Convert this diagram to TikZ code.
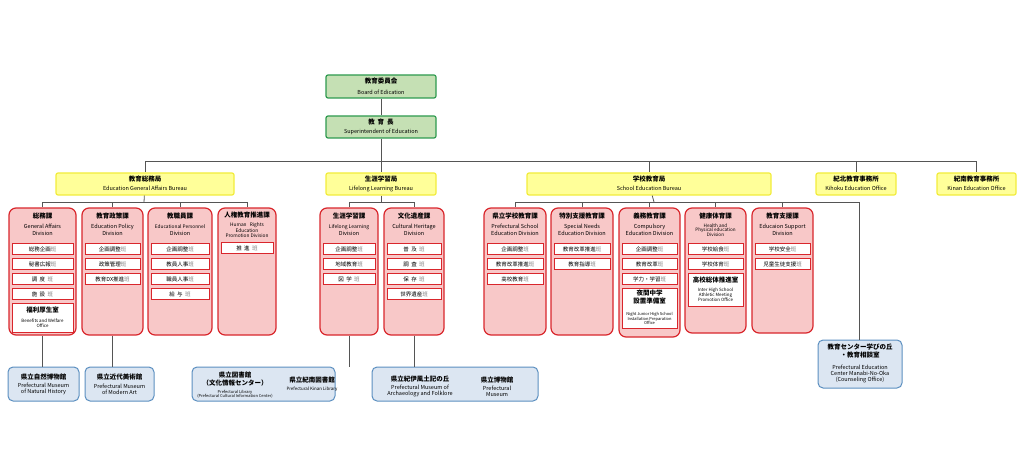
\documentclass[tikz,border=0pt]{standalone}
\usepackage{fontspec}
\setmainfont{Noto Sans CJK JP}
\definecolor{gfill}{HTML}{C5E0B4}\definecolor{gline}{HTML}{2E9A4F}
\definecolor{yfill}{HTML}{FFFF99}\definecolor{yline}{HTML}{F2EC3C}
\definecolor{pfill}{HTML}{F8C8C8}\definecolor{pline}{HTML}{D9262C}
\definecolor{bfill}{HTML}{DCE6F2}\definecolor{bline}{HTML}{5B8FC0}
\definecolor{conn}{HTML}{555555}
\tikzset{
 gbox/.style={draw=gline,fill=gfill,line width=1.2pt,rounded corners=2pt},
 ybox/.style={draw=yline,fill=yfill,line width=1.2pt,rounded corners=2pt},
 pbox/.style={draw=pline,fill=pfill,line width=1.2pt,rounded corners=7pt},
 bbox/.style={draw=bline,fill=bfill,line width=1pt,rounded corners=5pt},
 ibox/.style={draw=pline,fill=white,line width=1pt},
 con/.style={draw=conn,line width=0.8pt},
 txt/.style={inner sep=0pt,align=center,font=\fontsize{5.5}{6.3}\selectfont},
 ttl/.style={inner sep=0pt,align=center,font=\fontsize{6.5}{7.5}\selectfont\bfseries},
}
\newcommand\bx[6]{\node[#1,inner sep=0pt,minimum width={(#5-#3)*1pt},minimum height={(#6-#4)*1pt}] (#2) at ({(#3+#5)/2},{(#4+#6)/2}) {};}
\newcommand\itm[5]{\node[ibox,inner sep=0pt,minimum width={(#3-#2-6)*1pt},minimum height=11pt,txt] (#1) at ({(#2+#3)/2},#4) {#5};}
\newcommand\ban{\textcolor{gray}{班}}
\begin{document}
\begin{tikzpicture}[x=1pt,y=-1pt]
\useasboundingbox (0,0) rectangle (1024,465);
\coordinate (hub) at (381,161);
\coordinate (gaj) at (144,202);
\coordinate (llj) at (381,202);
\coordinate (sej) at (654,202);
% top
\bx{gbox}{board}{326}{75}{436}{98}
\bx{gbox}{supt}{326}{116}{436}{138}
\node[ttl] at (381,81) {教育委員会};
\node[txt] at (381,92) {Board of Edication};
\node[ttl] at (381,122) {教\ \ 育\ \ 長};
\node[txt] at (381,132) {Superintendent of Education};
% bureaus
\bx{ybox}{gab}{56}{173}{234}{195}
\bx{ybox}{llb}{326}{173}{436}{195}
\bx{ybox}{seb}{527}{173}{771}{195}
\bx{ybox}{kho}{816}{173}{896}{195}
\bx{ybox}{kno}{937}{173}{1016}{195}
\foreach \n/\j/\e in {gab/教育総務局/Education General Affairs Bureau,llb/生涯学習局/Lifelong Learning Bureau,seb/学校教育局/School Education Bureau,kho/紀北教育事務所/Kihoku Education Office,kno/紀南教育事務所/Kinan Education Office}{
 \node[ttl] at ([yshift=5pt]\n.center) {\j};
 \node[txt] at ([yshift=-4.5pt]\n.center) {\e};}
% divisions
\bx{pbox}{d1}{9}{208}{76}{335}
\bx{pbox}{d2}{82}{208}{143}{335}
\bx{pbox}{d3}{148}{208}{212}{335}
\bx{pbox}{d4}{218}{208}{276}{335}
\bx{pbox}{d5}{320}{208}{378}{335}
\bx{pbox}{d6}{384}{208}{444}{335}
\bx{pbox}{d7}{484}{208}{546}{335}
\bx{pbox}{d8}{551}{208}{613}{335}
\bx{pbox}{d9}{619}{208}{680}{337}
\bx{pbox}{d10}{685}{208}{746}{333}
\bx{pbox}{d11}{752}{208}{813}{333}
% bottom boxes
\bx{bbox}{nh}{8}{367}{79}{401}
\bx{bbox}{ma}{85}{367}{154}{401}
\bx{bbox}{lib}{192}{367}{335}{401}
\bx{bbox}{kii}{372}{367}{538}{401}
\bx{bbox}{mn}{818}{340}{902}{388}
% connector lines
\draw[con] (board) -- (supt);
\draw[con] (supt) -- (hub);
\draw[con] (hub) -| (gab.north);
\draw[con] (hub) -| (kno.north);
\draw[con] (hub) -| (llb.north);
\draw[con] (hub) -| (seb.north);
\draw[con] (hub) -| (kho.north);
\draw[con] (gab) -- (gaj);
\draw[con] (gaj) -| (d1.north); \draw[con] (gaj) -| (d2.north);
\draw[con] (gaj) -| (d3.north); \draw[con] (gaj) -| (d4.north);
\draw[con] (llb) -- (llj);
\draw[con] (llj) -| (d5.north); \draw[con] (llj) -| (d6.north);
\draw[con] (seb) -- (sej);
\foreach \d in {d7,d8,d9,d10,d11}{\draw[con] (sej) -| (\d.north);}
\draw[con] (sej) -| ([xshift=-1pt]mn.north);
\draw[con] (d1.south) -- (d1.south |- nh.north);
\draw[con] (d2.south) -- (d2.south |- ma.north);
\draw[con] (d5.south) -- (d5.south |- lib.north);
\draw[con] (d6.south) -- (d6.south |- kii.north);
% division headers
\node[ttl] at (42.5,216) {総務課};
\node[txt] at (42.5,230) {General Affairs\\[1pt]Division};
\itm{a1}{9}{76}{249}{総務企画\ban}
\itm{a2}{9}{76}{264}{秘書広報\ban}
\itm{a3}{9}{76}{279}{調\ \ 度\ \ \ban}
\itm{a4}{9}{76}{294}{施\ \ 設\ \ \ban}
\node[ibox,minimum width=61pt,minimum height=29pt,inner sep=0pt] (a5) at (42.5,317.5) {};
\node[ttl] at (42.5,310) {福利厚生室};
\node[txt,font=\fontsize{4.4}{5.2}\selectfont] at (42.5,323.5) {Benefits and Welfare\\Office};
\node[ttl] at (112.5,216) {教育政策課};
\node[txt] at (112.5,230) {Education Policy\\[1pt]Division};
\itm{b1}{82}{143}{249}{企画調整\ban}
\itm{b2}{82}{143}{264}{政策管理\ban}
\itm{b3}{82}{143}{279}{教育DX推進\ban}
\node[ttl] at (180,216) {教職員課};
\node[txt] at (180,230) {\fontsize{4.8}{5.4}\selectfont Educational Personnel\\[1pt]Division};
\itm{c1}{148}{212}{249}{企画調整\ban}
\itm{c2}{148}{212}{264}{教員人事\ban}
\itm{c3}{148}{212}{279}{職員人事\ban}
\itm{c4}{148}{212}{294}{給\ \ 与\ \ \ban}
\node[ttl] at (247,215) {人権教育推進課};
\node[txt,font=\fontsize{4.8}{4.8}\selectfont] at (247,230) {Human\ \ \ Rights\\Education\\Promotion Division};
\itm{e1}{218}{276}{248}{推\ \ 進\ \ \ban}
\node[ttl] at (349,216) {生涯学習課};
\node[txt] at (349,230) {\fontsize{5}{5.6}\selectfont Lifelong Learning\\[1pt]Division};
\itm{f1}{320}{378}{249}{企画調整\ban}
\itm{f2}{320}{378}{264}{地域教育\ban}
\itm{f3}{320}{378}{279}{図\ \ 学\ \ \ban}
\node[ttl] at (414,216) {文化遺産課};
\node[txt] at (414,230) {Cultural Heritage\\[1pt]Division};
\itm{g1}{384}{444}{249}{普\ \ 及\ \ \ban}
\itm{g2}{384}{444}{264}{調\ \ 査\ \ \ban}
\itm{g3}{384}{444}{279}{保\ \ 存\ \ \ban}
\itm{g4}{384}{444}{294}{世界遺産\ban}
\node[ttl] at (515,216) {県立学校教育課};
\node[txt] at (515,230) {Prefectural School\\[1pt]Education Division};
\itm{h1}{484}{546}{249}{企画調整\ban}
\itm{h2}{484}{546}{264}{教育改革推進\ban}
\itm{h3}{484}{546}{279}{高校教育\ban}
\node[ttl] at (582,216) {特別支援教育課};
\node[txt] at (582,230) {Special Needs\\[1pt]Education Division};
\itm{i1}{551}{613}{249}{教育改革推進\ban}
\itm{i2}{551}{613}{264}{教育指導\ban}
\node[ttl] at (649.5,216) {義務教育課};
\node[txt] at (649.5,230) {Compulsory\\[1pt]Education Division};
\itm{j1}{619}{680}{249}{企画調整\ban}
\itm{j2}{619}{680}{264}{教育改革\ban}
\itm{j3}{619}{680}{279}{学力・学習\ban}
\node[ibox,minimum width=55pt,minimum height=40pt,inner sep=0pt] (j4) at (649.5,308) {};
\node[ttl] at (649.5,297) {夜間中学\\設置準備室};
\node[txt,font=\fontsize{4}{4.8}\selectfont] at (649.5,318.5) {Night Junior High School\\Installation Preparation\\Office};
\node[ttl] at (715.5,216) {健康体育課};
\node[txt,font=\fontsize{4.6}{4.8}\selectfont] at (715.5,230) {Health and\\Physical education\\Division};
\itm{k1}{685}{746}{249}{学校給食\ban}
\itm{k2}{685}{746}{264}{学校体育\ban}
\node[ibox,minimum width=55pt,minimum height=33pt,inner sep=0pt] (k3) at (715.5,289.5) {};
\node[ttl] at (715.5,280.5) {高校総体推進室};
\node[txt,font=\fontsize{4.4}{5}\selectfont] at (715.5,295) {Inter High School\\Athletic Meeting\\Promotion Office};
\node[ttl] at (782.5,216) {教育支援課};
\node[txt] at (782.5,230) {Educaion Support\\[1pt]Division};
\itm{l1}{752}{813}{249}{学校安全\ban}
\itm{l2}{752}{813}{264}{児童生徒支援\ban}
% bottom texts
\node[ttl] at (43.5,377) {県立自然博物館};
\node[txt] at (43.5,389) {Prefectural Museum\\of Natural History};
\node[ttl] at (119.5,377) {県立近代美術館};
\node[txt] at (119.5,389) {Prefectural Museum\\of Modern Art};
\node[ttl] at (235,379) {県立図書館\\（文化情報センター）};
\node[txt,font=\fontsize{4}{4.4}\selectfont] at (235,394) {Prefectural Library\\(Prefectural Cultural Information Center)};
\node[ttl] at (312,380) {県立紀南図書館};
\node[txt,font=\fontsize{4.4}{5}\selectfont] at (312,389) {Prefectural Kinan Library};
\node[ttl] at (420,379) {県立紀伊風土記の丘};
\node[txt] at (420,391) {Prefectural Museum of\\Archaeology and Folklore};
\node[ttl] at (497,380) {県立博物館};
\node[txt] at (497,391) {Prefectural\\Museum};
\node[ttl] at (860,351) {教育センター学びの丘\\・教育相談室};
\node[txt] at (860,374) {Prefectural Education\\Center Manabi-No-Oka\\(Counseling Office)};
\end{tikzpicture}
\end{document}
